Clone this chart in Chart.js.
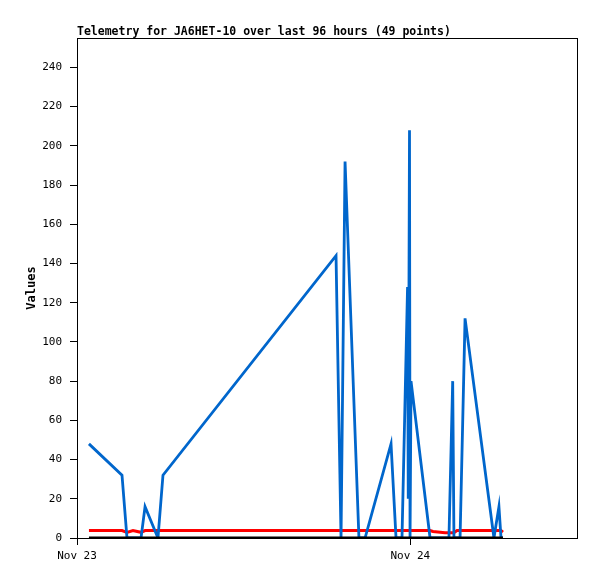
<!DOCTYPE html>
<html>
<head>
<meta charset="utf-8">
<script src="https://cdn.jsdelivr.net/npm/chart.js@4/dist/chart.umd.min.js"></script>
<style>
  html, body { margin: 0; padding: 0; background: #fff; }
</style>
</head>
<body>
<canvas id="telemetryChart" width="597" height="579"></canvas>
<script>
// hours since Nov 23 00:00
const hours = [0.86, 3.24, 3.60, 4.03, 4.61, 4.90, 5.83, 6.19, 18.65, 19.01, 19.30, 20.30,
    20.74, 22.61, 22.97, 23.40, 23.80, 23.85, 23.94, 23.98, 24.05, 25.42, 25.63, 26.50,
    26.78, 27.05, 27.14, 27.36, 27.58, 27.94, 30.02, 30.38, 30.53, 30.67];
const blueValues = [48, 32, 0, 0, 0, 16, 0, 32, 144, 0, 192, 0,
    0, 48, 0, 0, 128, 20, 208, 0, 80, 0, 0, 0,
    0, 80, 0, 0, 0, 112, 0, 16, 0, 0];
const redValues = [3.8, 3.8, 2.9, 3.8, 2.9, 3.8, 3.8, 3.8, 3.8, 3.8, 3.8, 3.8,
    3.8, 3.8, 3.8, 3.8, 3.8, 3.8, 3.8, 3.8, 3.8, 3.8, 3.3, 2.7,
    2.7, 2.7, 2.7, 3.8, 3.8, 3.8, 3.8, 3.8, 3.8, 3.0];
const blackValues = hours.map(() => 0);
const yTicks = [0, 20, 40, 60, 80, 100, 120, 140, 160, 180, 200, 220, 240];
const dayTicks = [0, 24];
const dayLabels = ['Nov 23', 'Nov 24'];

const tickFont = { family: 'DejaVu Sans Mono', size: 11 };

function pts(vals) {
    return hours.map((h, i) => ({ x: h, y: vals[i] }));
}

// frame + title, like the original image
const framePlugin = {
    id: 'frame',
    afterDraw(chart) {
        const { ctx, chartArea } = chart;
        ctx.save();
        ctx.strokeStyle = '#000';
        ctx.lineWidth = 1;
        ctx.strokeRect(chartArea.left + 0.5, chartArea.top + 0.5,
            chartArea.right - chartArea.left, chartArea.bottom - chartArea.top);
        ctx.fillStyle = '#000';
        ctx.font = 'bold 11.5px "DejaVu Sans Mono"';
        ctx.textBaseline = 'alphabetic';
        ctx.textAlign = 'left';
        ctx.fillText('Telemetry for JA6HET-10 over last 96 hours (49 points)', chartArea.left, 35);
        ctx.restore();
    }
};

const ctx = document.getElementById('telemetryChart').getContext('2d');
const telemetryChart = new Chart(ctx, {
    type: 'line',
    data: {
        datasets: [
            {
                label: 'zero',
                data: pts(blackValues),
                borderColor: '#000000',
                borderWidth: 3,
                order: 0,
            },
            {
                label: 'values',
                data: pts(blueValues),
                borderColor: '#0066cc',
                borderWidth: 2.8,
                order: 1,
            },
            {
                label: 'level',
                data: pts(redValues),
                borderColor: '#ff0000',
                borderWidth: 3,
                order: 2,
            },
        ],
    },
    options: {
        responsive: false,
        animation: false,
        elements: {
            point: { radius: 0 },
            line: { tension: 0 },
        },
        layout: {
            padding: { top: 38, right: 20, bottom: 0, left: 0 },
        },
        plugins: {
            legend: { display: false },
            tooltip: { enabled: false },
        },
        scales: {
            x: {
                type: 'linear',
                min: 0,
                max: 36,
                afterBuildTicks: (scale) => {
                    scale.ticks = dayTicks.map(v => ({ value: v }));
                },
                afterFit: (scale) => { scale.height = 41; },
                ticks: {
                    font: tickFont,
                    color: '#000',
                    padding: 5,
                    maxRotation: 0,
                    callback: (v) => dayLabels[dayTicks.indexOf(v)],
                },
                grid: {
                    drawOnChartArea: false,
                    drawTicks: true,
                    tickLength: 7,
                    color: '#000',
                },
                border: { display: true, color: '#000' },
            },
            y: {
                min: 0,
                max: 255,
                afterBuildTicks: (scale) => {
                    scale.ticks = yTicks.map(v => ({ value: v }));
                },
                afterFit: (scale) => { scale.width = 77; },
                ticks: {
                    font: tickFont,
                    color: '#000',
                    padding: 8,
                },
                grid: {
                    drawOnChartArea: false,
                    drawTicks: true,
                    tickLength: 7,
                    color: '#000',
                },
                border: { display: true, color: '#000' },
                title: {
                    display: true,
                    text: 'Values',
                    color: '#000',
                    font: { family: 'DejaVu Sans Mono', size: 12, weight: 'bold' },
                    padding: { top: 25, bottom: 0 },
                },
            },
        },
    },
    plugins: [framePlugin],
});
</script>
</body>
</html>
